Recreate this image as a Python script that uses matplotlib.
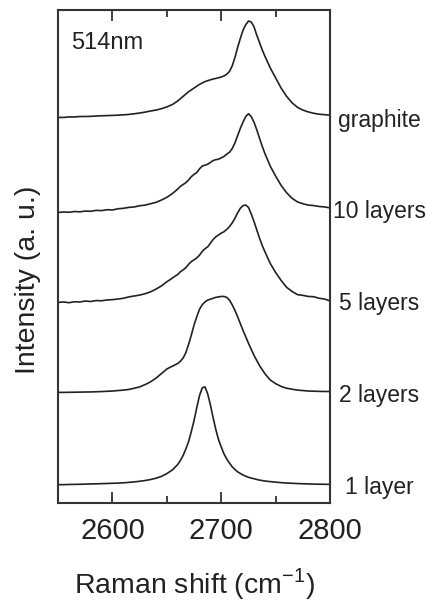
import matplotlib
matplotlib.use("Agg")
import matplotlib.pyplot as plt
from matplotlib.ticker import MultipleLocator
import numpy as np

plt.rcParams['font.family'] = ['Liberation Sans', 'DejaVu Sans']
plt.rcParams['mathtext.fontset'] = 'custom'
plt.rcParams['mathtext.rm'] = 'Liberation Sans'

# Raman shift (cm-1): 5 cm-1 steps in the wings, 2.5 cm-1 around the 2D peak
shift = [2550, 2555, 2560, 2565, 2570, 2575, 2580, 2585, 2590, 2595,
         2600, 2605, 2610, 2615, 2620, 2625, 2630, 2635, 2640, 2645,
         2650, 2655, 2660,
         2662.5, 2665, 2667.5, 2670, 2672.5, 2675, 2677.5, 2680,
         2682.5, 2685, 2687.5, 2690, 2692.5, 2695, 2697.5, 2700,
         2702.5, 2705, 2707.5, 2710, 2712.5, 2715, 2717.5, 2720,
         2722.5, 2725, 2727.5, 2730, 2732.5, 2735, 2737.5, 2740,
         2745, 2750, 2755, 2760, 2765, 2770, 2775, 2780, 2785, 2790,
         2795, 2800]

one_layer = [0.0, 0.0, 0.002, 0.003, 0.004, 0.006, 0.008, 0.009, 0.011, 0.013,
             0.015, 0.017, 0.02, 0.025, 0.03, 0.037, 0.045, 0.056, 0.07, 0.09,
             0.12, 0.16, 0.22,
             0.265, 0.32, 0.39, 0.47, 0.58, 0.70, 0.84, 0.97,
             1.055, 1.065, 0.99, 0.87, 0.73, 0.60, 0.49, 0.41,
             0.335, 0.28, 0.236, 0.195, 0.166, 0.14, 0.122, 0.105,
             0.092, 0.08, 0.072, 0.065, 0.057, 0.05, 0.045, 0.04,
             0.033, 0.027, 0.022, 0.018, 0.015, 0.012, 0.01, 0.008, 0.006, 0.005,
             0.004, 0.003]

two_layers = [0.005, 0.005, 0.006, 0.007, 0.008, 0.009, 0.01, 0.012, 0.014, 0.017,
              0.02, 0.025, 0.03, 0.037, 0.05, 0.065, 0.09, 0.12, 0.16, 0.21,
              0.26, 0.29, 0.32,
              0.345, 0.38, 0.44, 0.53, 0.63, 0.74, 0.83, 0.91,
              0.96, 0.99, 1.01, 1.02, 1.03, 1.04, 1.045, 1.05,
              1.05, 1.04, 1.01, 0.96, 0.90, 0.83, 0.755, 0.68,
              0.61, 0.54, 0.475, 0.41, 0.355, 0.30, 0.255, 0.21,
              0.14, 0.10, 0.07, 0.05, 0.04, 0.03, 0.025, 0.02, 0.018, 0.016,
              0.015, 0.015]

five_layers = [-0.015, -0.01, -0.018, -0.008, -0.01, 0.0, -0.005, 0.005, 0.003, 0.012,
               0.015, 0.022, 0.03, 0.045, 0.055, 0.065, 0.08, 0.10, 0.13, 0.165,
               0.21, 0.25, 0.29,
               0.32, 0.34, 0.365, 0.40, 0.43, 0.45, 0.47, 0.50,
               0.54, 0.57, 0.59, 0.63, 0.67, 0.70, 0.72, 0.74,
               0.755, 0.78, 0.81, 0.85, 0.90, 0.96, 1.01, 1.04,
               1.045, 1.02, 0.95, 0.87, 0.78, 0.69, 0.61, 0.54,
               0.41, 0.31, 0.225, 0.15, 0.105, 0.07, 0.062, 0.05, 0.047, 0.03,
               0.022, 0.0]

ten_layers = [-0.035, -0.03, -0.033, -0.025, -0.028, -0.02, -0.022, -0.012, -0.015, -0.005,
              -0.008, 0.005, 0.01, 0.02, 0.025, 0.038, 0.045, 0.06, 0.075, 0.10,
              0.13, 0.17, 0.22,
              0.25, 0.27, 0.29, 0.32, 0.355, 0.38, 0.40, 0.44,
              0.47, 0.48, 0.49, 0.51, 0.53, 0.54, 0.545, 0.56,
              0.575, 0.60, 0.62, 0.66, 0.72, 0.80, 0.88, 0.95,
              1.01, 1.04, 1.01, 0.95, 0.87, 0.78, 0.69, 0.61,
              0.47, 0.36, 0.26, 0.18, 0.12, 0.08, 0.06, 0.045, 0.04, 0.03,
              0.025, 0.015]

graphite = [0.0, 0.0, 0.005, 0.005, 0.01, 0.01, 0.012, 0.015, 0.018, 0.02,
            0.022, 0.025, 0.028, 0.033, 0.04, 0.048, 0.058, 0.07, 0.08, 0.095,
            0.115, 0.14, 0.18,
            0.205, 0.23, 0.255, 0.28, 0.30, 0.32, 0.34, 0.36,
            0.375, 0.39, 0.40, 0.41, 0.418, 0.425, 0.432, 0.44,
            0.452, 0.47, 0.50, 0.56, 0.65, 0.76, 0.86, 0.95,
            1.01, 1.05, 1.04, 0.99, 0.90, 0.82, 0.74, 0.67,
            0.54, 0.43, 0.32, 0.23, 0.16, 0.11, 0.08, 0.06, 0.045, 0.035,
            0.03, 0.025]

spectra = [one_layer, two_layers, five_layers, ten_layers, graphite]
labels = ['1 layer', '2 layers', '5 layers', '10 layers', 'graphite']
offsets = [0, 1, 2, 3, 4]

fig = plt.figure(figsize=(4.27, 6.07), dpi=100)
ax = fig.add_axes([0.136, 0.1713, 0.637, 0.8122])

for y, lab, off in zip(spectra, labels, offsets):
    ax.plot(shift, np.array(y) + off, color='#222222', lw=1.2)
    ax.text(1.18, off - 0.03, lab, transform=ax.get_yaxis_transform(),
            ha='center', va='center', fontsize=16.5, color='#222222')

ax.set_xlim(2550, 2800)
ax.set_ylim(-0.2, 5.17)
ax.set_yticks([])
ax.xaxis.set_major_locator(MultipleLocator(100))
ax.xaxis.set_minor_locator(MultipleLocator(50))
ax.tick_params(axis='x', which='both', direction='in', top=True,
               colors='#333333', labelcolor='#222222', labelsize=21, pad=10)
ax.tick_params(axis='x', which='major', length=8, width=1.3)
ax.tick_params(axis='x', which='minor', length=5, width=1.3)
for s in ax.spines.values():
    s.set_color('#333333')
    s.set_linewidth(1.5)

ax.text(0.048, 0.955, '514nm', transform=ax.transAxes, ha='left', va='top',
        fontsize=17, color='#222222')

ax.set_xlabel('Raman shift (cm$^{-1}$)', fontsize=20.5, color='#222222')
ax.xaxis.set_label_coords(0.5, -0.128)
ax.set_ylabel('Intensity (a. u.)', fontsize=20.5, color='#222222')
ax.yaxis.set_label_coords(-0.062, 0.452)

fig.savefig('out.png', dpi=100)
